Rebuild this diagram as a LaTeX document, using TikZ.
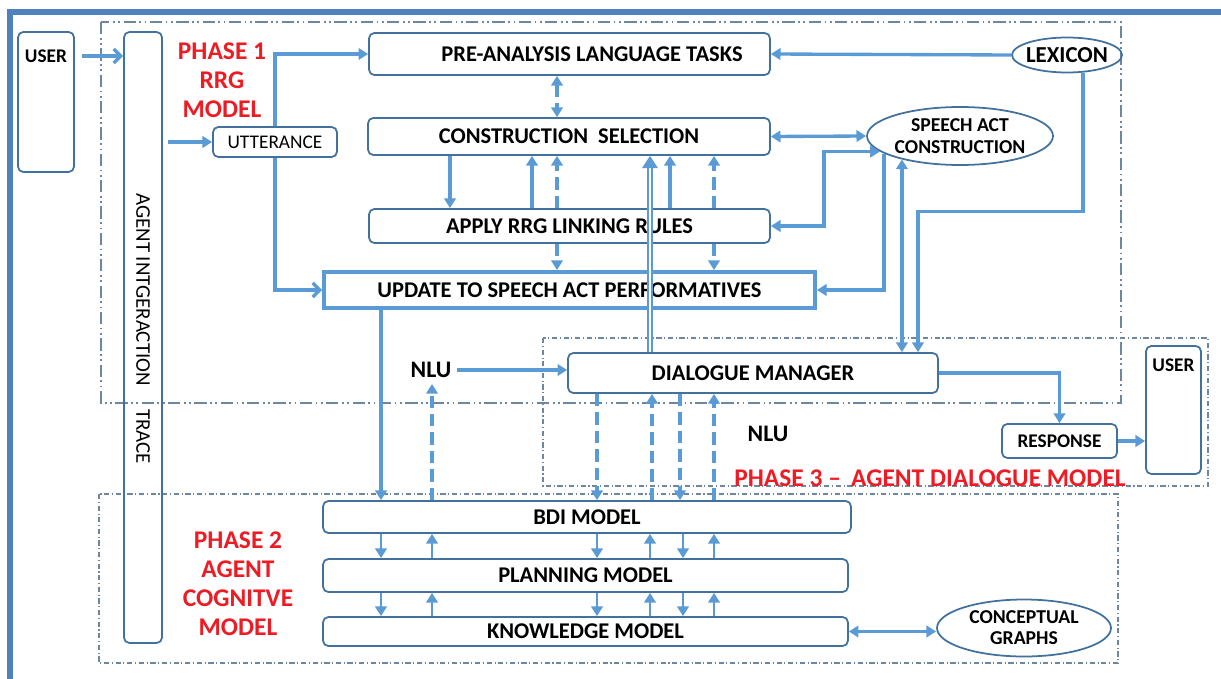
\documentclass[tikz,border=0pt]{standalone}
\usepackage{fontspec}
\setmainfont{Carlito}
\usetikzlibrary{arrows.meta,shapes.geometric}

\definecolor{flowblue}{RGB}{91,155,213}
\definecolor{edgeblue}{RGB}{65,113,156}
\definecolor{frameblue}{RGB}{79,129,189}
\definecolor{phasered}{RGB}{237,28,36}
\definecolor{zonegray}{RGB}{110,135,160}

\begin{document}
\begin{tikzpicture}[x=0.02cm,y=-0.02cm,
  font=\bfseries\fontsize{12.8}{14}\selectfont,
  box/.style={draw=edgeblue,line width=1pt,rounded corners=3pt,inner sep=0pt},
  oval/.style={draw=edgeblue,line width=1pt,ellipse,inner sep=-3pt,align=center},
  flow/.style={draw=flowblue,line width=1.9pt},
  thinflow/.style={draw=flowblue,line width=1.4pt},
  dashline/.style={dash pattern=on 7pt off 3.5pt},
  onehead/.style={-{Triangle[length=5.5pt,width=6.5pt]}},
  twohead/.style={{Triangle[length=5.5pt,width=6.5pt]}-{Triangle[length=5.5pt,width=6.5pt]}},
  barbhead/.style={-{Straight Barb[length=4pt,width=8pt]}},
  phase/.style={text=phasered,font=\bfseries\fontsize{14.5}{16.5}\selectfont,align=center},
  zone/.style={draw=zonegray,line width=0.6pt,dash pattern=on 3pt off 1.5pt on 0.6pt off 1.5pt},
]
\useasboundingbox (0,0) rectangle (1221,679);

\draw[frameblue,line width=3pt] (10,679) -- (10,12) -- (1221,12);

% phase areas
\draw[zone,line width=0.9pt,dash pattern=on 7pt off 2pt on 1pt off 2pt on 1pt off 2pt] (101,22) rectangle (1121,403);
\draw[zone] (99,494) rectangle (1118,663);
\draw[zone] (543,338) rectangle (1208,486);

\node[phase] (ph1) at (222,80) {PHASE 1\\RRG\\MODEL};
\node[phase] (ph2) at (238,583.5) {PHASE 2\\AGENT\\COGNITVE\\MODEL};
\node[phase] (ph3) at (930,478) {PHASE 3 --\hspace{0.4em}AGENT DIALOGUE MODEL};

% users and trace
\node[box,minimum width=1.12cm,minimum height=2.8cm,
  label={[anchor=north,yshift=-7pt,font=\bfseries\fontsize{11}{13}\selectfont]north:USER}] (userL) at (46,102) {};
\node[box,minimum width=1.1cm,minimum height=2.56cm,
  label={[anchor=north,yshift=-4pt,font=\bfseries\fontsize{11}{13}\selectfont]north:USER}] (userR) at (1173.5,410) {};
\node[box,minimum width=0.76cm,minimum height=12.22cm] (trace) at (143,337.5) {};
\node[rotate=-90,font=\fontsize{11.9}{13}\selectfont] (tracetext) at ([yshift=0.18cm]trace.center) {AGENT INTGERACTION\hspace{1.1em}TRACE};

% phase 1
\node[box,minimum width=2.48cm,minimum height=0.6cm,font=\fontsize{11}{13}\selectfont] (utt) at (275,142) {UTTERANCE};
\node[box,minimum width=8.02cm,minimum height=0.84cm] (pre) at (569.5,54) {\hspace*{0.9cm}PRE-ANALYSIS LANGUAGE TASKS};
\node[box,minimum width=8.04cm,minimum height=0.74cm] (cs) at (569,136.5) {CONSTRUCTION\hspace{0.45em}SELECTION};
\node[box,minimum width=8.02cm,minimum height=0.68cm] (apply) at (569.5,226) {APPLY RRG LINKING RULES};
\node[draw=flowblue,line width=2.2pt,minimum width=9.82cm,minimum height=0.72cm,inner sep=0pt] (upd) at (569.5,290) {UPDATE TO SPEECH ACT PERFORMATIVES};
\node[oval,minimum width=2.2cm,minimum height=0.7cm,font=\bfseries\fontsize{13}{15}\selectfont] (lex) at (1067,55) {LEXICON};
\node[oval,minimum width=3.72cm,minimum height=1.16cm,font=\bfseries\fontsize{11.2}{12.5}\selectfont] (sa) at (960,136) {SPEECH ACT\\CONSTRUCTION};

% phase 3
\node[box,minimum width=7.4cm,minimum height=0.8cm] (dm) at (753,373) {DIALOGUE MANAGER};
\node[box,minimum width=2.3cm,minimum height=0.68cm,font=\bfseries\fontsize{11}{12}\selectfont] (resp) at (1059.5,441) {RESPONSE};
\node[font=\bfseries\fontsize{13.5}{15}\selectfont] (nlu1) at (431,370) {NLU};
\node[font=\bfseries\fontsize{13.5}{15}\selectfont] (nlu2) at (768,434) {NLU};

% phase 2
\node[box,minimum width=10.56cm,minimum height=0.64cm] (bdi) at (587,517) {BDI MODEL};
\node[box,minimum width=10.5cm,minimum height=0.66cm] (plan) at (585.5,575.5) {PLANNING MODEL};
\node[box,minimum width=10.5cm,minimum height=0.58cm] (know) at (585.5,631.5) {KNOWLEDGE MODEL};
\node[oval,minimum width=3.48cm,minimum height=1.14cm,font=\bfseries\fontsize{11.2}{12}\selectfont] (cg) at (1024,628) {CONCEPTUAL\\GRAPHS};

% connectors
\draw[flow,barbhead,shorten <=4pt] (userL.east |- 0,56) -- (trace.west |- 0,56);
\draw[flow,onehead,shorten <=3pt] (trace.east |- utt) -- (utt.west);
\draw[flow,onehead] (utt.north) |- (pre.west);
\draw[flow,barbhead] (utt.south) |- (upd.west);
\draw[flow,onehead] (lex.west) -- (pre.east);
\draw[flow,onehead] (lex.-48) -- ++(0,139) -| ([xshift=3.3cm]dm.north);
\draw[flow,twohead] (cs.east) -- (sa.west);
\draw[flow,twohead] (apply.east) -- ++(53,0) |- (sa.191);
\draw[flow,onehead] (sa.193) |- (upd.east);
\draw[flow,twohead] (dm.north -| sa.202) -- (sa.202);
\draw[flow,onehead] (dm.east) -| (resp.north);
\draw[flow,onehead] (resp.east) -- (resp.east -| userR.west);
\draw[flow,onehead] (nlu1.east) -- (nlu1.east -| dm.west);
\draw[flow,dashline,twohead] (pre.south -| 557,0) -- (cs.north -| 557,0);

\foreach \x in {450} \draw[flow,onehead] (cs.south -| \x,0) -- (apply.north -| \x,0);
\foreach \x in {532,670} \draw[flow,onehead] (apply.north -| \x,0) -- (cs.south -| \x,0);
\foreach \x in {557,714} {
  \draw[flow,dashline,onehead] (apply.north -| \x,0) -- (cs.south -| \x,0);
  \draw[flow,dashline,onehead] (apply.south -| \x,0) -- (upd.north -| \x,0);
}
\draw[draw=flowblue,double=white,double distance=1.6pt,line width=0.7pt,-{Triangle[length=7pt,width=9pt]}]
  (dm.north -| 650,0) -- (cs.south -| 650,0);

\draw[flow,onehead] (upd.south -| 381,0) -- (bdi.north -| 381,0);
\draw[flow,dashline,onehead] (bdi.north -| 432,0) -- (nlu1.south -| 432,0);
\foreach \x in {597,680} \draw[flow,dashline,onehead] (dm.south -| \x,0) -- (bdi.north -| \x,0);
\foreach \x in {652,714} \draw[flow,dashline,onehead] (bdi.north -| \x,0) -- (dm.south -| \x,0);

\foreach \x in {381,597,683} {
  \draw[thinflow,onehead] (bdi.south -| \x,0) -- (plan.north -| \x,0);
  \draw[thinflow,onehead] (plan.south -| \x,0) -- (know.north -| \x,0);
}
\foreach \x in {432,650,714} {
  \draw[thinflow,onehead] (plan.north -| \x,0) -- (bdi.south -| \x,0);
  \draw[thinflow,onehead] (know.north -| \x,0) -- (plan.south -| \x,0);
}
\draw[flow,twohead] (know.east) -- (know.east -| cg.west);

\end{tikzpicture}
\end{document}
